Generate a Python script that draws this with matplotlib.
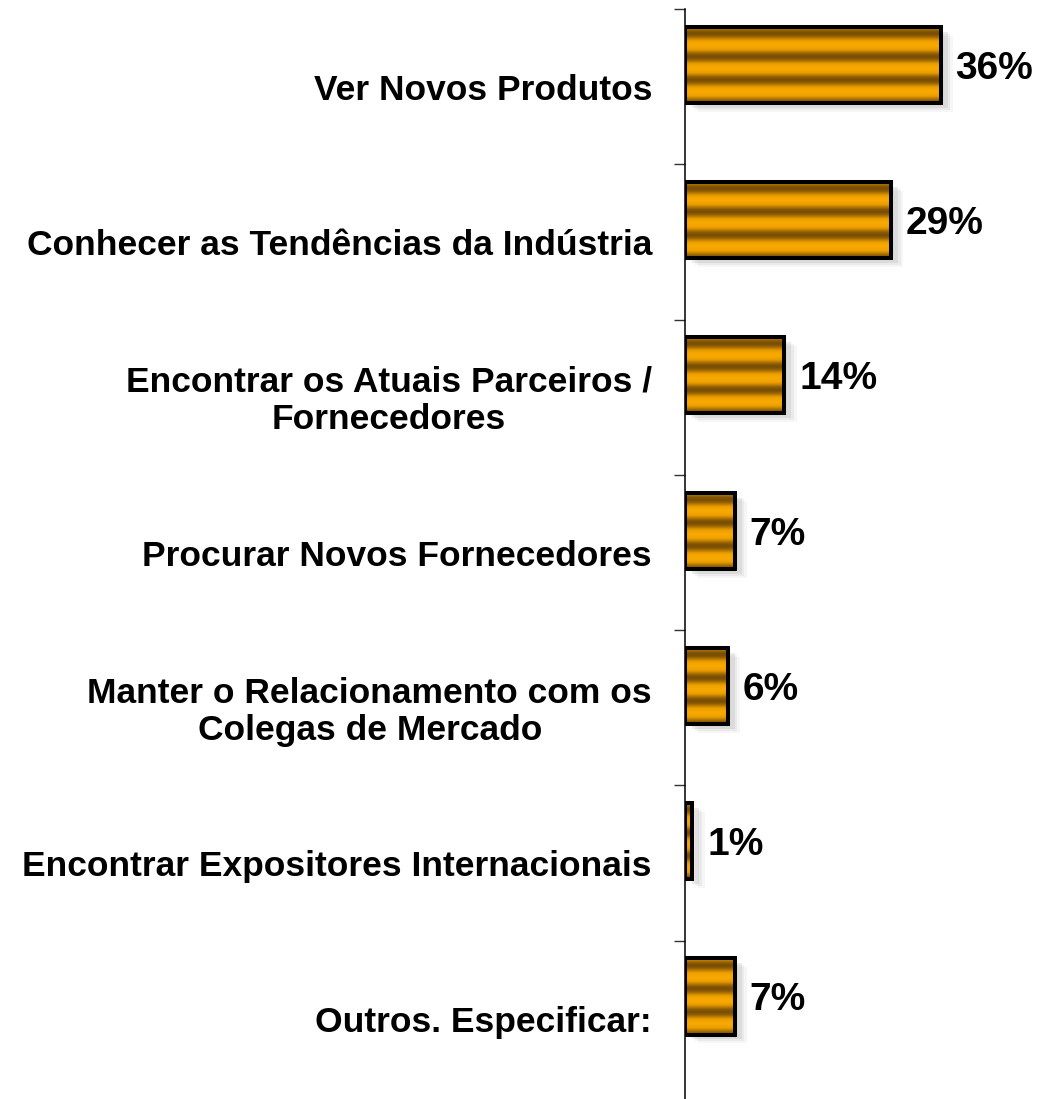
import numpy as np
import matplotlib
matplotlib.use("Agg")
import matplotlib.pyplot as plt
import matplotlib.patheffects as pe
from matplotlib.colors import LinearSegmentedColormap

categories = [
    "Ver Novos Produtos",
    "Conhecer as Tendências da Indústria",
    "Encontrar os Atuais Parceiros /\nFornecedores",
    "Procurar Novos Fornecedores",
    "Manter o Relacionamento com os\nColegas de Mercado",
    "Encontrar Expositores Internacionais",
    "Outros. Especificar:",
]
values = [36, 29, 14, 7, 6, 1, 7]
value_labels = ["36%", "29%", "14%", "7%", "6%", "1%", "7%"]

plt.rcParams["font.family"] = ["Liberation Sans", "DejaVu Sans"]

fig = plt.figure(figsize=(10.39, 10.99), dpi=100)
ax = fig.add_axes([685 / 1039, 0.0, 1 - 685 / 1039, 1 - 9 / 1099])

n = len(categories)
pos = np.arange(n)
offset = -0.14  # bars sit a bit above the band centre
bh = 0.49

# soft drop shadow underneath
shadow = [pe.SimplePatchShadow(offset=(o, -o * 0.7), shadow_rgbFace="#a8a8a8", alpha=a)
          for o, a in [(9, 0.10), (7, 0.15), (5, 0.22)]]
ax.barh(pos + offset, values, height=bh, facecolor="none", edgecolor="none",
        zorder=1, path_effects=shadow)

bars = ax.barh(pos + offset, values, height=bh, facecolor="none",
               edgecolor="black", linewidth=2.9, zorder=3)

# striped metallic fill
stripe = LinearSegmentedColormap.from_list("stripe", ["#7a4f06", "#b57800", "#e99c00", "#f7a800"])
t = np.linspace(0, 1, 300)
grad = (0.5 + 0.5 * np.cos(2 * np.pi * (3.3 * t + 0.19))).reshape(-1, 1)
for b in bars:
    x0, y0 = b.get_x(), b.get_y()
    w, h = b.get_width(), b.get_height()
    im = ax.imshow(grad, extent=[x0, x0 + w, y0 + h, y0], aspect="auto",
                   cmap=stripe, vmin=0, vmax=1, zorder=2.5, interpolation="bilinear")
    im.set_clip_path(b)

for b, lab in zip(bars, value_labels):
    ax.text(b.get_width() + 2.1, b.get_y() + b.get_height() / 2 + 0.025, lab,
            ha="left", va="center", fontsize=28, fontweight="bold", zorder=4)

for p, cat in zip(pos, categories):
    ax.annotate(cat, xy=(0, p), xycoords=("axes fraction", "data"),
                xytext=(-33, -4), textcoords="offset pixels",
                ha="right", va="center", multialignment="center",
                fontsize=25.5, fontweight="bold", linespacing=1.17)

ax.set_xlim(0, 354 / 7.1)
ax.set_ylim(n - 0.5 + 0.02, -0.5)
ax.set_yticks(np.arange(n) - 0.5)
ax.set_yticklabels([])
ax.tick_params(axis="y", length=8, width=1, color="#333333", direction="out")
ax.set_xticks([])
for s in ["top", "right", "bottom"]:
    ax.spines[s].set_visible(False)
ax.spines["left"].set_linewidth(1.1)
ax.patch.set_alpha(0)

fig.savefig("out.png", dpi=100)
